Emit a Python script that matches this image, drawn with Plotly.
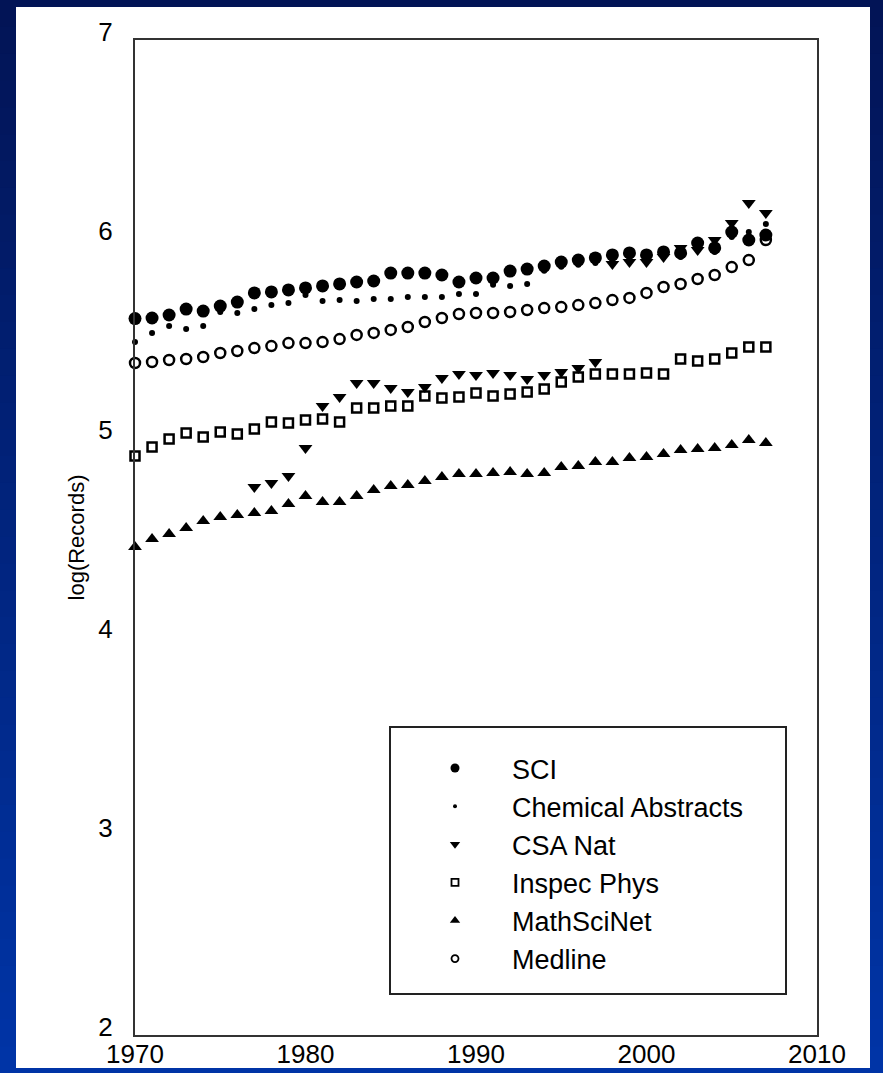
import plotly.graph_objects as go

years = list(range(1970, 2008))

sci = [5.60, 5.603, 5.618, 5.648, 5.638, 5.663, 5.683, 5.729, 5.734, 5.744,
       5.754, 5.764, 5.774, 5.784, 5.789, 5.829, 5.829, 5.829, 5.819, 5.784,
       5.804, 5.804, 5.839, 5.849, 5.864, 5.884, 5.894, 5.905, 5.920, 5.930,
       5.920, 5.935, 5.930, 5.980, 5.955, 6.035, 5.995, 6.020]

chem_abstracts = [5.482, 5.528, 5.563, 5.548, 5.563, 5.633, 5.628, 5.648, 5.668, 5.678,
                  5.719, 5.688, 5.693, 5.688, 5.698, 5.698, 5.709, 5.709, 5.709, 5.724,
                  5.724, 5.770, 5.764, 5.774, 5.840, 5.860, 5.870, 5.880, 5.895, 5.905,
                  5.900, 5.910, 5.910, 5.955, 5.935, 6.010, 6.035, 6.075]

csa_nat = [None] * 7 + [4.754, 4.774, 4.809,
           4.950, 5.161, 5.206, 5.276, 5.276, 5.251, 5.231, 5.256, 5.302, 5.322,
           5.317, 5.327, 5.317, 5.296, 5.317, 5.332, 5.352, 5.382, 5.874, 5.884,
           5.884, 5.910, 5.955, 5.945, 5.995, 6.080, 6.181, 6.131]

inspec_phys = [4.910, 4.955, 4.995, 5.025, 5.005, 5.030, 5.020, 5.045, 5.080, 5.075,
               5.090, 5.095, 5.080, 5.151, 5.151, 5.161, 5.161, 5.211, 5.201, 5.206,
               5.226, 5.211, 5.221, 5.231, 5.246, 5.281, 5.307, 5.322, 5.322, 5.322,
               5.327, 5.322, 5.397, 5.387, 5.397, 5.427, 5.457, 5.457]

mathscinet = [4.452, 4.492, 4.518, 4.548, 4.583, 4.603, 4.613, 4.623, 4.633, 4.668,
              4.709, 4.678, 4.678, 4.709, 4.739, 4.759, 4.764, 4.784, 4.804, 4.819,
              4.819, 4.824, 4.829, 4.819, 4.824, 4.854, 4.859, 4.879, 4.879, 4.899,
              4.905, 4.920, 4.940, 4.945, 4.950, 4.965, 4.990, 4.975]

medline = [5.377, 5.382, 5.392, 5.397, 5.407, 5.427, 5.437, 5.452, 5.462, 5.477,
           5.477, 5.482, 5.497, 5.518, 5.528, 5.543, 5.558, 5.583, 5.603, 5.623,
           5.628, 5.628, 5.633, 5.643, 5.653, 5.658, 5.668, 5.678, 5.693, 5.704,
           5.729, 5.759, 5.774, 5.799, 5.819, 5.859, 5.894, 5.995]

series_names = ["SCI", "Chemical Abstracts", "CSA Nat", "Inspec Phys", "MathSciNet", "Medline"]
x_ticks = [1970, 1980, 1990, 2000, 2010]
y_ticks = [2, 3, 4, 5, 6, 7]

FONT = "Arial, Liberation Sans, sans-serif"
W, H = 883, 1073
L, R, T, B = 135, 66, 40, 38
PW, PH = W - L - R, H - T - B


def px_to_paper_x(px):
    return (px - L) / PW


def px_to_paper_y(py):
    return (H - B - py) / PH


styles = [
    dict(symbol="circle", size=13, color="black", line=dict(width=0)),
    dict(symbol="circle", size=6, color="black", line=dict(width=0)),
    dict(symbol="triangle-down", size=12, color="black", line=dict(width=0)),
    dict(symbol="square-open", size=9, color="black", line=dict(width=2.5, color="black")),
    dict(symbol="triangle-up", size=12, color="black", line=dict(width=0)),
    dict(symbol="circle-open", size=10, color="black", line=dict(width=2.5, color="black")),
]
legend_styles = [
    dict(symbol="circle", size=9, color="black"),
    dict(symbol="circle", size=4, color="black"),
    dict(symbol="triangle-down", size=9, color="black"),
    dict(symbol="square-open", size=7, color="black", line=dict(width=1.8, color="black")),
    dict(symbol="triangle-up", size=9, color="black"),
    dict(symbol="circle-open", size=7, color="black", line=dict(width=1.8, color="black")),
]
all_series = [sci, chem_abstracts, csa_nat, inspec_phys, mathscinet, medline]

fig = go.Figure()
for name, vals, st in zip(series_names, all_series, styles):
    fig.add_trace(go.Scatter(x=years, y=vals, mode="markers", name=name,
                             marker=st, showlegend=False, cliponaxis=False))
for name, st in zip(series_names, legend_styles):
    fig.add_trace(go.Scatter(x=[None], y=[None], mode="markers", name=name,
                             marker=st, showlegend=True))

# background gradient bands + white panel
shapes = []
n = 40
c0, c1 = (2, 20, 86), (0, 52, 166)
for i in range(n):
    t = i / (n - 1)
    col = "rgb(%d,%d,%d)" % tuple(round(a + (b - a) * t) for a, b in zip(c0, c1))
    y_top = i * H / n
    y_bot = (i + 1) * H / n + 1
    shapes.append(dict(type="rect", xref="paper", yref="paper", layer="below",
                       x0=px_to_paper_x(0), x1=px_to_paper_x(W),
                       y0=px_to_paper_y(y_bot), y1=px_to_paper_y(y_top),
                       fillcolor=col, line=dict(width=0)))
shapes.append(dict(type="rect", xref="paper", yref="paper", layer="below",
                   x0=px_to_paper_x(16), x1=px_to_paper_x(870),
                   y0=px_to_paper_y(1068), y1=px_to_paper_y(7),
                   fillcolor="white", line=dict(width=0)))
# legend box
shapes.append(dict(type="rect", xref="paper", yref="paper", layer="above",
                   x0=px_to_paper_x(390), x1=px_to_paper_x(786),
                   y0=px_to_paper_y(994), y1=px_to_paper_y(727),
                   fillcolor="rgba(0,0,0,0)", line=dict(width=2, color="#222")))

fig.update_layout(
    width=W, height=H,
    margin=dict(l=L, r=R, t=T, b=B, pad=0, autoexpand=False),
    paper_bgcolor="rgb(0,40,130)",
    plot_bgcolor="white",
    shapes=shapes,
    font=dict(family=FONT, color="black"),
    showlegend=True,
    legend=dict(x=px_to_paper_x(398), y=px_to_paper_y(744), xanchor="left", yanchor="top",
                bgcolor="rgba(0,0,0,0)", borderwidth=0, itemwidth=104,
                font=dict(size=27, family=FONT, color="black")),
    xaxis=dict(range=[1970, 2010], tickvals=x_ticks, showgrid=False, zeroline=False,
               showline=True, mirror=True, linecolor="#333", linewidth=2, automargin=False,
               ticks="", ticklabelstandoff=-5, tickfont=dict(size=26, family=FONT)),
    yaxis=dict(range=[2, 7], tickvals=y_ticks, showgrid=False, zeroline=False,
               showline=True, mirror=True, linecolor="#333", linewidth=2, automargin=False,
               ticks="", ticklabelstandoff=15, ticklabelshift=-8,
               tickfont=dict(size=26, family=FONT),
               title=dict(text="log(Records)", font=dict(size=22, family=FONT), standoff=8)),
)

fig.write_html("out.html",
               config={"displayModeBar": False},
               post_script="document.body.style.margin='0';document.body.style.overflow='hidden';")
